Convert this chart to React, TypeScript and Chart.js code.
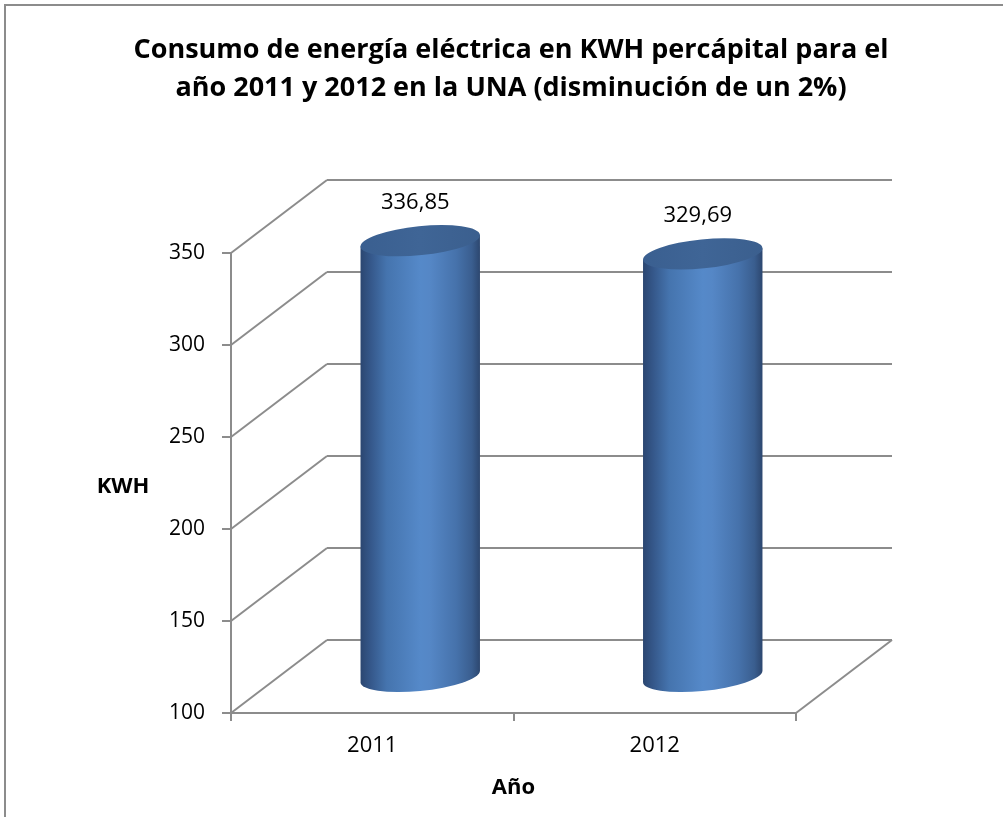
import React, { useEffect, useRef } from 'react';
import { Chart, registerables } from 'chart.js';

Chart.register(...registerables);

// ---- data ----
const years: string[] = ['2011', '2012'];
const kwh: number[] = [336.85, 329.69];
const yTicks: number[] = [100, 150, 200, 250, 300, 350];
const titleLines: string[] = [
  'Consumo de energía eléctrica en KWH percápital para el',
  'año 2011 y 2012 en la UNA (disminución de un 2%)',
];
const yAxisTitle = 'KWH';
const xAxisTitle = 'Año';

// ---- style ----
const FONT = "'Open Sans', 'DejaVu Sans', sans-serif";
const GRID = '#8c8c8c';
const DX = 96; // depth offset x
const DY = -73; // depth offset y
const RX = 60;
const RY = 14.5;
const ROT = -0.1;

const fmt = (v: number) => v.toFixed(2).replace('.', ',');

const threeD = {
  id: 'threeD',
  beforeDatasetsDraw(chart: any) {
    const { ctx, chartArea, scales } = chart;
    const { left, right, bottom } = chartArea;
    const y = scales.y;
    ctx.save();
    ctx.strokeStyle = GRID;
    ctx.lineWidth = 2;
    ctx.lineCap = 'butt';
    yTicks.forEach((v) => {
      const yf = y.getPixelForValue(v);
      ctx.beginPath();
      ctx.moveTo(left + DX, yf + DY);
      ctx.lineTo(right + DX, yf + DY);
      ctx.stroke();
      ctx.beginPath();
      ctx.moveTo(left, yf);
      ctx.lineTo(left + DX, yf + DY);
      ctx.stroke();
    });
    ctx.beginPath();
    ctx.moveTo(right, bottom);
    ctx.lineTo(right + DX, bottom + DY);
    ctx.stroke();
    ctx.restore();
  },
  afterDatasetsDraw(chart: any) {
    const { ctx, scales } = chart;
    const x = scales.x;
    const y = scales.y;
    const base = y.min;
    const t0 = Math.atan((-(RY * Math.sin(ROT))) / (RX * Math.cos(ROT)));
    const pt = (cx: number, cy: number, t: number) => [
      cx + RX * Math.cos(t) * Math.cos(ROT) - RY * Math.sin(t) * Math.sin(ROT),
      cy + RX * Math.cos(t) * Math.sin(ROT) + RY * Math.sin(t) * Math.cos(ROT),
    ];
    kwh.forEach((v, i) => {
      const cx = x.getPixelForValue(i) + DX / 2;
      const cyTop = y.getPixelForValue(v) + DY / 2;
      const cyBot = y.getPixelForValue(base) + DY / 2;
      const tl = pt(cx, cyTop, t0 + Math.PI);
      const bl = pt(cx, cyBot, t0 + Math.PI);
      const tr = pt(cx, cyTop, t0);
      ctx.save();
      const g = ctx.createLinearGradient(cx - RX, 0, cx + RX, 0);
      g.addColorStop(0, '#2b4670');
      g.addColorStop(0.08, '#345688');
      g.addColorStop(0.22, '#4574ae');
      g.addColorStop(0.5, '#5589c9');
      g.addColorStop(0.58, '#5587c6');
      g.addColorStop(0.8, '#4672ab');
      g.addColorStop(0.93, '#3a5e8f');
      g.addColorStop(1, '#2c466e');
      ctx.beginPath();
      ctx.moveTo(tl[0], tl[1]);
      ctx.lineTo(bl[0], bl[1]);
      ctx.ellipse(cx, cyBot, RX, RY, ROT, t0 + Math.PI, t0, true);
      ctx.lineTo(tr[0], tr[1]);
      ctx.closePath();
      ctx.fillStyle = g;
      ctx.fill();
      // top cap
      ctx.beginPath();
      ctx.ellipse(cx, cyTop, RX, RY, ROT, 0, Math.PI * 2);
      const gt = ctx.createLinearGradient(cx - RX, 0, cx + RX, 0);
      gt.addColorStop(0, '#3a5f90');
      gt.addColorStop(0.5, '#3f6596');
      gt.addColorStop(1, '#3b5f8e');
      ctx.fillStyle = gt;
      ctx.fill();
      // label
      ctx.fillStyle = '#000';
      ctx.font = `22px ${FONT}`;
      ctx.textAlign = 'center';
      ctx.textBaseline = 'middle';
      ctx.fillText(fmt(v), cx - 5, cyTop - 38);
      ctx.restore();
    });
  },
  afterDraw(chart: any) {
    const { ctx, chartArea } = chart;
    ctx.save();
    // outer frame (partially cropped)
    ctx.strokeStyle = GRID;
    ctx.lineWidth = 2;
    ctx.beginPath();
    ctx.moveTo(5, 900);
    ctx.lineTo(5, 5);
    ctx.lineTo(1100, 5);
    ctx.stroke();
    // title
    ctx.fillStyle = '#000';
    ctx.textAlign = 'center';
    ctx.textBaseline = 'middle';
    ctx.font = `bold 27px ${FONT}`;
    titleLines.forEach((line, i) => ctx.fillText(line, 511, 50 + i * 38));
    // axis titles
    ctx.font = `bold 22px ${FONT}`;
    ctx.fillText(yAxisTitle, 123, 487);
    ctx.fillText(xAxisTitle, (chartArea.left + chartArea.right) / 2, 788);
    ctx.restore();
  },
};

export default function App() {
  const ref = useRef<HTMLCanvasElement | null>(null);
  useEffect(() => {
    if (!ref.current) return;
    const chart = new Chart(ref.current, {
      type: 'bar',
      data: {
        labels: years,
        datasets: [
          {
            label: 'KWH',
            data: kwh,
            backgroundColor: 'rgba(0,0,0,0)',
            borderWidth: 0,
          },
        ],
      },
      options: {
        responsive: false,
        animation: false,
        devicePixelRatio: 1,
        layout: { padding: { left: 0, right: 207, top: 253, bottom: 0 } },
        plugins: {
          legend: { display: false },
          tooltip: { enabled: false },
          title: { display: false },
        },
        scales: {
          x: {
            type: 'category',
            offset: true,
            grid: {
              offset: true,
              drawOnChartArea: false,
              drawTicks: true,
              tickLength: 8,
              color: GRID,
              lineWidth: 2,
            },
            border: { display: true, color: GRID, width: 2 },
            ticks: { color: '#000', font: { family: FONT, size: 22 }, padding: 12 },
            afterFit: (s: any) => {
              s.height = 104;
            },
          },
          y: {
            min: yTicks[0],
            max: yTicks[yTicks.length - 1],
            afterBuildTicks: (s: any) => {
              s.ticks = yTicks.map((v) => ({ value: v }));
            },
            grid: {
              drawOnChartArea: false,
              drawTicks: true,
              tickLength: 9,
              color: GRID,
              lineWidth: 2,
            },
            border: { display: true, color: GRID, width: 2 },
            ticks: { color: '#000', font: { family: FONT, size: 21 }, padding: 17 },
            afterFit: (s: any) => {
              s.width = 231;
            },
          },
        },
      } as any,
      plugins: [threeD],
    });
    return () => chart.destroy();
  }, []);
  return (
    <div style={{ position: 'fixed', left: 0, top: 0, width: 1003, height: 817, background: '#fff' }}>
      <canvas ref={ref} width={1003} height={817} style={{ display: 'block' }} />
    </div>
  );
}
